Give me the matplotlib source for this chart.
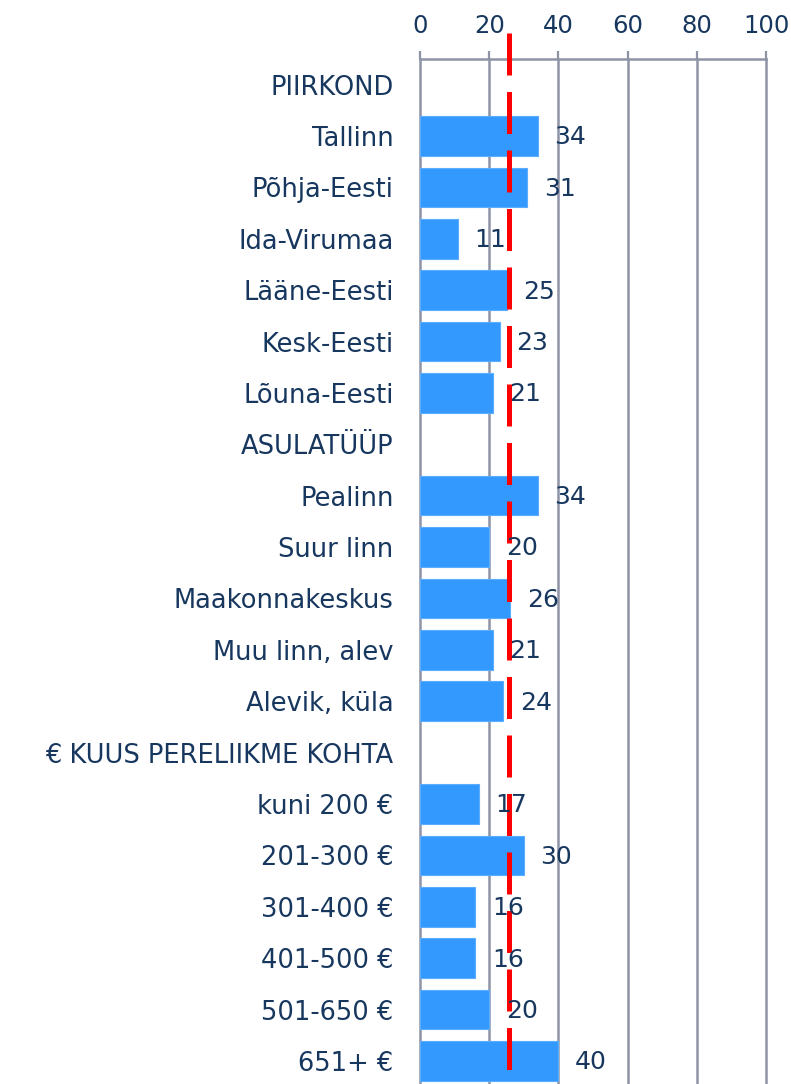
import matplotlib
matplotlib.use("Agg")
import matplotlib.pyplot as plt
import matplotlib.transforms as mtransforms
import numpy as np

categories = ["PIIRKOND", "Tallinn", "Põhja-Eesti", "Ida-Virumaa", "Lääne-Eesti",
              "Kesk-Eesti", "Lõuna-Eesti", "ASULATÜÜP", "Pealinn", "Suur linn",
              "Maakonnakeskus", "Muu linn, alev", "Alevik, küla",
              "€ KUUS PERELIIKME KOHTA", "kuni 200 €", "201-300 €", "301-400 €",
              "401-500 €", "501-650 €", "651+ €"]
values = [None, 34, 31, 11, 25, 23, 21, None, 34, 20, 26, 21, 24,
          None, 17, 30, 16, 16, 20, 40]
average = 25.6
xticks = [0, 20, 40, 60, 80, 100]

TEXT = "#17375E"
BAR = "#3399FF"
GRID = "#8E93A6"

plt.rcParams['font.family'] = ['DejaVu Sans']
fig = plt.figure(figsize=(7.91, 10.84), dpi=100)
ax = fig.add_axes([420/791, 0.0, 346/791, 1 - 59/1084])

n = len(categories)
y = np.arange(n)
for yi, v in zip(y, values):
    if v is not None:
        ax.barh(yi, v, height=0.77, color=BAR, edgecolor="#5AADFF", linewidth=0.8, zorder=3)
        ax.annotate(str(v), xy=(v, yi), xytext=(12, -1), textcoords="offset points",
                    ha="left", va="center", fontsize=18, color=TEXT, zorder=5)

ax.set_xlim(0, 100)
ax.set_ylim(n - 1 + 0.45, -0.5)
ax.set_yticks(y)
ax.set_yticklabels(categories, fontsize=18.5, color=TEXT)
ax.tick_params(axis="y", length=0, pad=19)
ax.xaxis.tick_top()
ax.set_xticks(xticks)
ax.set_xticklabels([str(t) for t in xticks], fontsize=17.5, color=TEXT)
ax.tick_params(axis="x", length=6, width=1.6, color=GRID, pad=9)

for s in ["left", "right", "bottom"]:
    ax.spines[s].set_visible(False)
ax.spines["top"].set_color(GRID)
ax.spines["top"].set_linewidth(1.8)

for t in xticks:
    ax.axvline(t, color=GRID, linewidth=1.8, zorder=1, clip_on=False)

trans = mtransforms.blended_transform_factory(ax.transData, ax.transAxes)
ax.plot([average, average], [1.0254, 0.0], transform=trans, color="#FF0000",
        linewidth=3.6, dashes=(8.4, 3.3), dash_capstyle="butt", clip_on=False, zorder=4)

fig.savefig("out.png", dpi=100)
